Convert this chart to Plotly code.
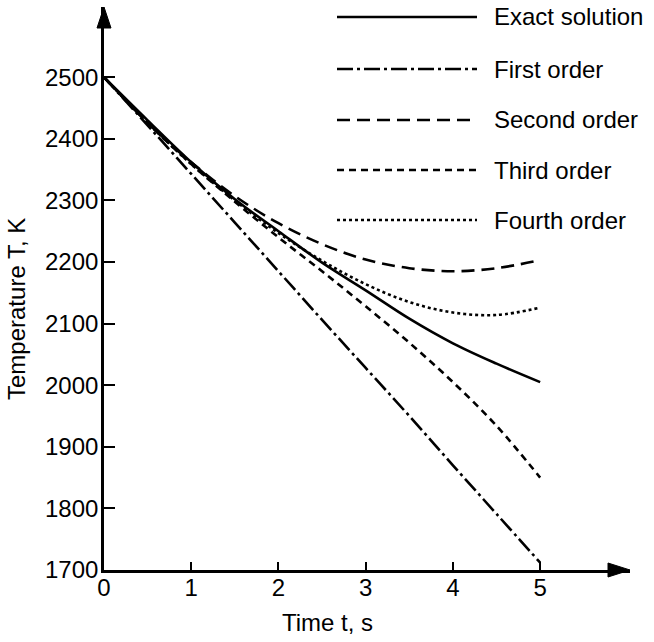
import plotly.graph_objects as go

# ---- data ----
time_s = [0, 0.5, 1, 1.5, 2, 2.5, 3, 3.5, 4, 4.5, 5]
exact_solution = [2500, 2430, 2362, 2302, 2250, 2199, 2154, 2108, 2068, 2035, 2005]
first_order = [2500, 2422, 2343, 2264, 2185, 2106, 2028, 1950, 1870, 1791, 1712]
second_order = [2500, 2426, 2362, 2307, 2263, 2229, 2204, 2190, 2185, 2190, 2203]
third_order = [2500, 2426, 2359, 2298, 2240, 2185, 2128, 2069, 2005, 1934, 1850]
fourth_order = [2500, 2426, 2359, 2300, 2247, 2202, 2164, 2135, 2118, 2114, 2126]

series_names = ["Exact solution", "First order", "Second order", "Third order", "Fourth order"]
series_values = [exact_solution, first_order, second_order, third_order, fourth_order]
series_dash = ["solid", "16px,4px,3px,4px", "13px,7px", "7px,5px", "3px,3px"]

x_ticks = [0, 1, 2, 3, 4, 5]
y_ticks = [1700, 1800, 1900, 2000, 2100, 2200, 2300, 2400, 2500]

FONT = "Liberation Sans, Arial, sans-serif"
FS = 24

fig = go.Figure()
for name, vals, dash in zip(series_names, series_values, series_dash):
    fig.add_trace(go.Scatter(
        x=time_s, y=vals, mode="lines", name=name,
        line=dict(color="black", width=2.6, dash=dash, shape="spline"),
        showlegend=False,
    ))

# page pixel -> paper coordinates (plot area 104..630 x 7..570)
L, W, B, H = 104, 526, 570, 563
def px_x(p):
    return (p - L) / W
def px_y(p):
    return (B - p) / H

legend_rows = [17, 69, 120, 170, 220]
for name, dash, row in zip(series_names, series_dash, legend_rows):
    fig.add_shape(type="line", xref="paper", yref="paper",
                  x0=px_x(337), x1=px_x(477), y0=px_y(row), y1=px_y(row),
                  line=dict(color="black", width=2.6, dash=dash))
    fig.add_annotation(xref="paper", yref="paper", x=px_x(493), y=px_y(row),
                       text=name, showarrow=False, xanchor="left", yanchor="middle",
                       borderpad=0,
                       font=dict(family=FONT, size=FS, color="black"))

# Axis arrowheads
fig.add_shape(type="path", xref="paper", yref="paper",
              xsizemode="pixel", ysizemode="pixel", xanchor=1, yanchor=0,
              path="M0,0 L-22,-7 L-22,7 Z", fillcolor="black", line=dict(color="black", width=1))
fig.add_shape(type="path", xref="paper", yref="paper",
              xsizemode="pixel", ysizemode="pixel", xanchor=0, yanchor=1,
              path="M0,0 L-7,-21 L7,-21 Z", fillcolor="black", line=dict(color="black", width=1))

# Axis titles
fig.add_annotation(xref="paper", yref="paper", x=px_x(327), y=px_y(623),
                   text="Time t, s", showarrow=False, xanchor="center", yanchor="middle",
                   font=dict(family=FONT, size=FS, color="black"))
fig.add_annotation(xref="paper", yref="paper", x=px_x(17), y=px_y(309),
                   text="Temperature T, K", showarrow=False, textangle=-90,
                   xanchor="center", yanchor="middle", borderpad=0,
                   font=dict(family=FONT, size=FS, color="black"))

fig.update_layout(
    width=654, height=642,
    margin=dict(l=104, r=24, t=7, b=72),
    plot_bgcolor="white", paper_bgcolor="white",
    font=dict(family=FONT, size=FS, color="black"),
    xaxis=dict(range=[0, 6.03], tickvals=x_ticks, ticktext=[str(v) for v in x_ticks],
               ticks="inside", ticklen=8, tickwidth=2, tickcolor="black",
               showline=True, linewidth=2.6, linecolor="black",
               showgrid=False, zeroline=False, ticklabelstandoff=-6),
    yaxis=dict(range=[1700, 2614], tickvals=y_ticks, ticktext=[str(v) for v in y_ticks],
               ticks="inside", ticklen=11, tickwidth=2, tickcolor="black",
               showline=True, linewidth=2.6, linecolor="black",
               showgrid=False, zeroline=False, ticklabelstandoff=-2),
)

fig.write_html("out.html", config={"displayModeBar": False},
               post_script="document.body.style.margin='0';document.body.style.overflow='hidden';")
